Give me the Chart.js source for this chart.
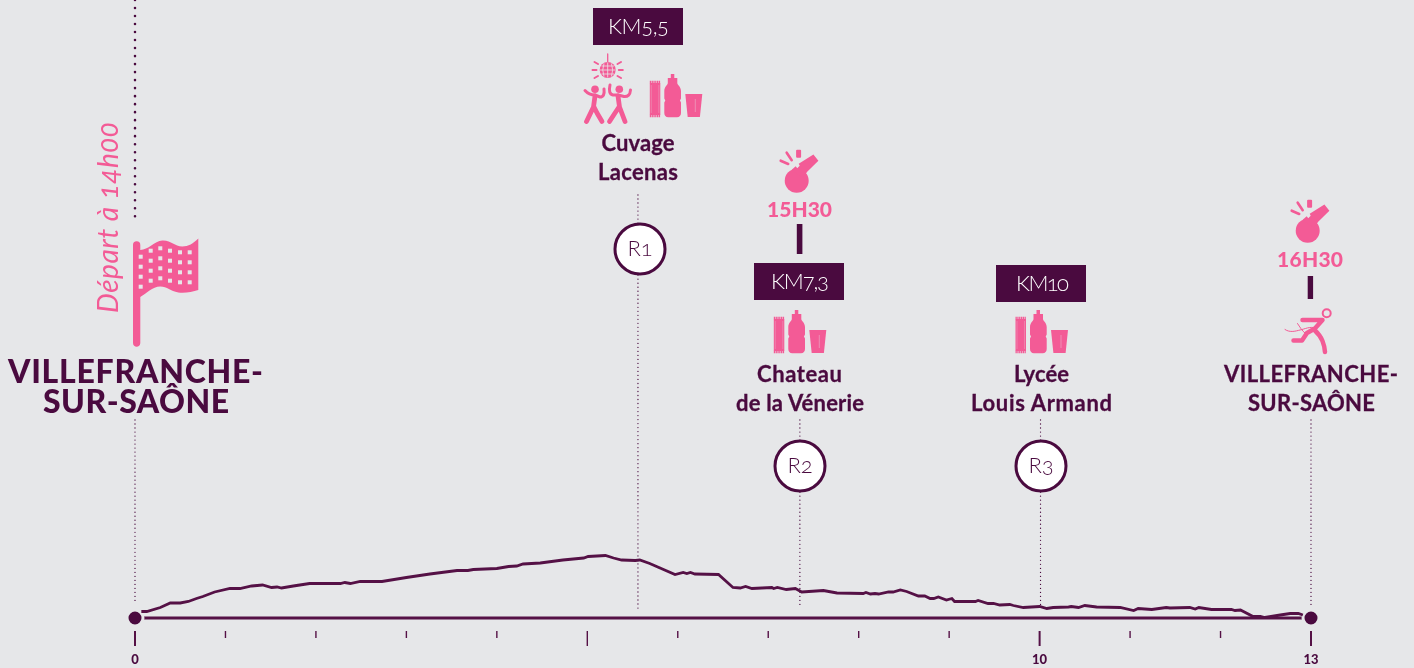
<!DOCTYPE html>
<html lang="fr">
<head>
<meta charset="utf-8">
<title>Parcours 13 km</title>
<script src="https://cdn.jsdelivr.net/npm/chart.js@4/dist/chart.umd.min.js"></script>
<style>
  html, body { margin: 0; padding: 0; background: #e6e7e9; overflow: hidden; }
  #wrap { position: relative; width: 1414px; height: 668px; }
  #chart, #overlay { position: absolute; left: 0; top: 0; }
  #overlay text { font-family: Lato, sans-serif; font-variant-numeric: oldstyle-nums; }
  .dark { fill: #4a0a3f; }
  .pink { fill: #f35b96; }
  .pk-line { stroke: #f35b96; fill: none; stroke-linecap: round; stroke-linejoin: round; }
  .km { fill: #fff; font-size: 22px; font-weight: 300; text-anchor: middle; }
  .place { fill: #4a0a3f; stroke: #4a0a3f; stroke-width: 0.3px; font-size: 22px; font-weight: 700; text-anchor: middle; }
  #overlay .hour { fill: #f35b96; font-size: 21px; font-weight: 900; text-anchor: middle; font-variant-numeric: lining-nums; }
  .big { fill: #4a0a3f; font-size: 32px; font-weight: 900; text-anchor: middle; }
  .ring { fill: #fff; stroke: #4a0a3f; stroke-width: 3; }
  .rn { fill: #4a0a3f; font-size: 22px; font-weight: 300; text-anchor: middle; }
  .start { fill: #f35b96; font-size: 28px; font-weight: 400; font-style: italic; }
</style>
</head>
<body>
<div id="wrap">
  <canvas id="chart" width="1414" height="668"></canvas>
  <svg id="overlay" width="1414" height="668" viewBox="0 0 1414 668">
    <defs>
      <g id="ravito">
        <rect class="pink" x="0.500" y="9" width="10.500" height="32"/>
        <path d="M0.500 8H11M0.500 42H11" stroke="#f35b96" stroke-width="2.400" stroke-dasharray="1.300 0.500"/>
        <path d="M2 11V39M9.500 11V39" stroke="#e6e7e9" stroke-width="0.500" opacity="0.500"/>
        <path class="pink" d="M21.500 0h3.500v4h3v5c0 2 3.700 3.500 3.700 8v7.500l-1 2 1 2V39c0 2.500-1.500 4.300-4 4.300H19c-2.500 0-4-1.800-4-4.300V28.500l1-2-1-2V17c0-4.500 3.500-6 3.500-8V4h3z"/>
        <path class="pink" d="M36 20H53L50.600 43H38.400z"/>
        <path d="M46 25V38" stroke="#e6e7e9" stroke-width="0.600" opacity="0.600"/>
      </g>
      <g id="whistle">
        <circle class="pink" r="12"/>
        <path class="pink" d="M-5 -11L-1 -14.500L0.500 -12.500L3 -15L2 -17L16.700 -26.300L21.700 -20L10.500 -9L6 -3z"/>
        <rect class="pink" x="-0.600" y="-31" width="5" height="8" rx="1"/>
        <path class="pk-line" stroke-width="2.600" d="M-10 -28L-5 -20.500M-16 -20L-8.500 -16.700"/>
      </g>
    </defs>

    <!-- depart -->
    <text class="start" transform="translate(118 313) rotate(-90)" textLength="191">Départ à 14h00</text>
    <path class="pink" d="M133 245a3.600 3.600 0 0 1 7.300 0v5c8 0 14-9 22-9.500c9-0.500 12 6 20 6c6 0 11-3 16-8v51.500c-6 2-14 3.500-20 2.500c-8-1.500-11-6-18-6c-8 0-14 7-20 10.500v46c0 5-7.300 5-7.300 0z"/>
    <g id="checks"></g>
    <text class="big" x="135.500" y="383" textLength="255">VILLEFRANCHE-</text>
    <text class="big" x="136" y="413" textLength="186">SUR-SAÔNE</text>

    <!-- km 5,5 -->
    <rect class="dark" x="593" y="8" width="90" height="37"/>
    <text class="km" x="638.500" y="34" textLength="61">KM5,5</text>
    <use href="#ravito" x="649.300" y="74"/>
    <g id="disco">
      <path class="pk-line" stroke-width="1.300" d="M607.700 54V62"/>
      <circle class="pink" cx="607.700" cy="70" r="8"/>
      <path d="M600 70H615.400M607.700 62.500V77.500M601.500 66H614M601.500 74H614M604 63.500Q601.500 70 604 76.500M611.400 63.500Q614 70 611.400 76.500" stroke="#e6e7e9" stroke-width="0.800" fill="none"/>
      <path class="pk-line" stroke-width="2" d="M592.500 70H596.500M618.800 70H622.800M594.500 62L598 64M594.500 78L598 76M621 62L617.500 64M621 78L617.500 76"/>
      <circle class="pink" cx="595" cy="89.300" r="3.800"/>
      <circle class="pink" cx="619.300" cy="89.300" r="3.800"/>
      <path class="pk-line" stroke-width="3" d="M585 90.500Q589 95 595 95M604 89Q605 97 600 97L595 95M630.500 90Q630 97 624 96.500L618 95M610 85Q608 94 613 95L618 95"/>
      <path class="pk-line" stroke-width="4.800" d="M595 96L593.500 107L586.500 121.500M594 107L597 113L602 121.500M618 96L619.500 107L625 121.500M619 107L615 113L609.500 121.500"/>
    </g>
    <text class="place" x="638" y="151" textLength="73">Cuvage</text>
    <text class="place" x="638" y="180" textLength="80">Lacenas</text>
    <circle class="ring" cx="640" cy="249" r="25"/>
    <text class="rn" x="640" y="256">R1</text>

    <!-- km 7,3 -->
    <use href="#whistle" x="796.700" y="180.700"/>
    <text class="hour" x="799.500" y="217" textLength="65">15H30</text>
    <rect class="dark" x="796.800" y="224" width="5.600" height="30"/>
    <rect class="dark" x="754" y="263" width="90" height="37"/>
    <text class="km" x="800" y="289" textLength="58">KM7,3</text>
    <use href="#ravito" x="773.300" y="310"/>
    <text class="place" x="799.500" y="382" textLength="85">Chateau</text>
    <text class="place" x="800" y="411" textLength="128">de la Vénerie</text>
    <circle class="ring" cx="800" cy="466" r="25"/>
    <text class="rn" x="800" y="473">R2</text>

    <!-- km 10 -->
    <rect class="dark" x="996" y="265" width="90" height="37"/>
    <text class="km" x="1042.500" y="291" textLength="53">KM10</text>
    <use href="#ravito" x="1015" y="310"/>
    <text class="place" x="1041.500" y="382" textLength="55">Lycée</text>
    <text class="place" x="1041.500" y="411" textLength="141">Louis Armand</text>
    <circle class="ring" cx="1041" cy="466" r="25"/>
    <text class="rn" x="1041" y="473">R3</text>

    <!-- arrivee -->
    <use href="#whistle" x="1307.700" y="230.700"/>
    <text class="hour" x="1310" y="267" textLength="66">16H30</text>
    <rect class="dark" x="1307.700" y="276" width="5.400" height="23"/>
    <g id="runner">
      <circle cx="1326.700" cy="313.300" r="4" fill="none" stroke="#f35b96" stroke-width="2"/>
      <path class="pk-line" stroke-width="4.500" d="M1302.500 320H1322.500L1314 329.500Q1320 335 1322.500 341Q1324.500 346 1325 352"/>
      <path class="pk-line" stroke-width="4.500" d="M1314 329L1307 333L1302 340.500H1293.500"/>
      <path class="pk-line" stroke-width="1" d="M1285 329.500C1290 333 1296 331 1300 330C1305 329 1310 326 1316 328M1297.500 323.500C1300 327 1302 331 1305 333"/>
    </g>
    <text class="place" x="1311" y="382" textLength="174">VILLEFRANCHE-</text>
    <text class="place" x="1311.500" y="411" textLength="127">SUR-SAÔNE</text>
  </svg>
</div>

<script>
// Profil du parcours : km et altitude (m)
const profileKm = [
  0.07, 0.13, 0.28, 0.39, 0.50, 0.59, 0.68, 0.75, 0.88, 1.05, 1.16, 1.29, 1.41, 1.51, 1.57, 1.62,
  1.75, 1.93, 2.27, 2.32, 2.38, 2.49, 2.73, 3.00, 3.26, 3.56, 3.68, 3.74, 4.00, 4.13, 4.22, 4.29,
  4.48, 4.73, 4.96, 5.01, 5.20, 5.29, 5.38, 5.53, 5.58, 5.69, 5.97, 6.06, 6.10, 6.14, 6.19, 6.45,
  6.61, 6.69, 6.75, 6.82, 7.04, 7.06, 7.10, 7.20, 7.30, 7.37, 7.61, 7.76, 8.05, 8.08, 8.13, 8.18,
  8.22, 8.33, 8.38, 8.46, 8.53, 8.66, 8.73, 8.79, 8.83, 8.88, 8.97, 9.03, 9.06, 9.29, 9.32, 9.43,
  9.49, 9.56, 9.67, 9.71, 9.82, 10.00, 10.08, 10.15, 10.32, 10.35, 10.43, 10.50, 10.63, 10.89, 11.04, 11.09,
  11.24, 11.40, 11.44, 11.66, 11.72, 11.76, 11.90, 12.12, 12.16, 12.22, 12.36, 12.44, 12.49, 12.66, 12.77, 12.86,
  12.91
];
const profileAlt = [
  178, 178, 186, 195, 195, 198, 204, 208, 217, 224, 224, 229, 231, 226, 227, 225,
  229, 234, 234, 236, 234, 238, 238, 246, 253, 260, 260, 262, 264, 268, 269, 273,
  275, 281, 285, 288, 290, 285, 281, 280, 281, 274, 252, 256, 254, 256, 253, 252,
  226, 225, 228, 224, 226, 224, 226, 222, 224, 217, 220, 215, 214, 216, 213, 214,
  213, 217, 217, 221, 218, 209, 209, 204, 204, 207, 201, 204, 198, 198, 200, 194,
  194, 191, 192, 190, 186, 188, 184, 186, 187, 188, 186, 190, 187, 186, 180, 184,
  182, 186, 185, 186, 183, 186, 182, 182, 180, 181, 168, 168, 166, 171, 174, 174,
  171
];
const distanceEnds = [0, 13];
const baseAlt = 165;
const labelledKm = [0, 10, 13];
const majorKm = [0, 5, 10, 13];
const stopKm = [0, 5.56, 7.35, 10.01, 13];

const PURPLE = '#4a0a3f';
const BG = '#e6e7e9';

// pointilles verticaux : [km, haut, bas, epaisseur, pas]
const leaders = [
  [stopKm[0], 0, 222, 2.6, 8],
  [stopKm[0], 420, 603, 1.3, 4],
  [stopKm[1], 195, 610, 1.3, 4],
  [stopKm[2], 420, 607, 1.3, 4],
  [stopKm[3], 420, 605, 1.3, 4],
  [stopKm[4], 420, 605, 1.3, 4],
];

const trackDecor = {
  id: 'trackDecor',
  beforeDatasetsDraw(chart) {
    const { ctx, scales: { x } } = chart;
    ctx.save();
    ctx.strokeStyle = PURPLE;
    ctx.lineCap = 'round';
    leaders.forEach(([km, top, bottom, width, step]) => {
      ctx.lineWidth = width;
      ctx.setLineDash([0.01, step]);
      ctx.beginPath();
      ctx.moveTo(x.getPixelForValue(km), top);
      ctx.lineTo(x.getPixelForValue(km), bottom);
      ctx.stroke();
    });
    ctx.setLineDash([]);
    ctx.lineCap = 'butt';
    ctx.strokeStyle = '#551146';
    x.ticks.forEach(t => {
      const major = majorKm.includes(t.value);
      const px = x.getPixelForValue(t.value);
      ctx.lineWidth = major && t.value !== 5 ? 2 : 1.4;
      ctx.beginPath();
      ctx.moveTo(px, 631);
      ctx.lineTo(px, major ? 646 : 638);
      ctx.stroke();
    });
    ctx.restore();
  },
};

new Chart(document.getElementById('chart'), {
  type: 'line',
  data: {
    datasets: [
      {
        label: 'Altitude',
        data: profileKm.map((km, i) => ({ x: km, y: profileAlt[i] })),
        borderColor: '#551146',
        borderWidth: 2.8,
        pointRadius: 0,
        tension: 0,
        clip: false,
      },
      {
        label: 'Distance',
        data: distanceEnds.map(km => ({ x: km, y: baseAlt })),
        borderColor: '#551146',
        borderWidth: 3,
        pointRadius: 8,
        pointBackgroundColor: PURPLE,
        pointBorderColor: BG,
        pointBorderWidth: 3,
        clip: false,
      },
    ],
  },
  options: {
    responsive: false,
    animation: false,
    events: [],
    layout: { padding: { left: 135, right: 103, top: 500, bottom: 0 } },
    plugins: { legend: { display: false }, tooltip: { enabled: false } },
    scales: {
      x: {
        type: 'linear',
        min: 0,
        max: 13,
        grid: { display: false },
        border: { display: false },
        afterFit: s => { s.height = 50; },
        ticks: {
          stepSize: 1,
          autoSkip: false,
          maxRotation: 0,
          padding: 26,
          color: PURPLE,
          font: { family: 'Lato', size: 13, weight: '900' },
          callback: v => (labelledKm.includes(v) ? String(v) : ''),
        },
      },
      y: { display: false, min: baseAlt, max: 401 },
    },
  },
  plugins: [trackDecor],
});

// damier du drapeau
const checkCols = [140.7, 150.7, 160.3, 170, 180, 189.7];
const checkTops = [256.7, 250.7, 248.3, 250.7, 252.3, 252.3];
const checks = document.getElementById('checks');
checkCols.forEach((cx, c) => {
  for (let r = 0; r < 4; r++) {
    const s = document.createElementNS('http://www.w3.org/2000/svg', 'rect');
    s.setAttribute('x', cx - 2);
    s.setAttribute('y', checkTops[c] + r * 10 - 2);
    s.setAttribute('width', 4);
    s.setAttribute('height', 4);
    s.setAttribute('fill', BG);
    checks.appendChild(s);
  }
});
</script>
</body>
</html>
